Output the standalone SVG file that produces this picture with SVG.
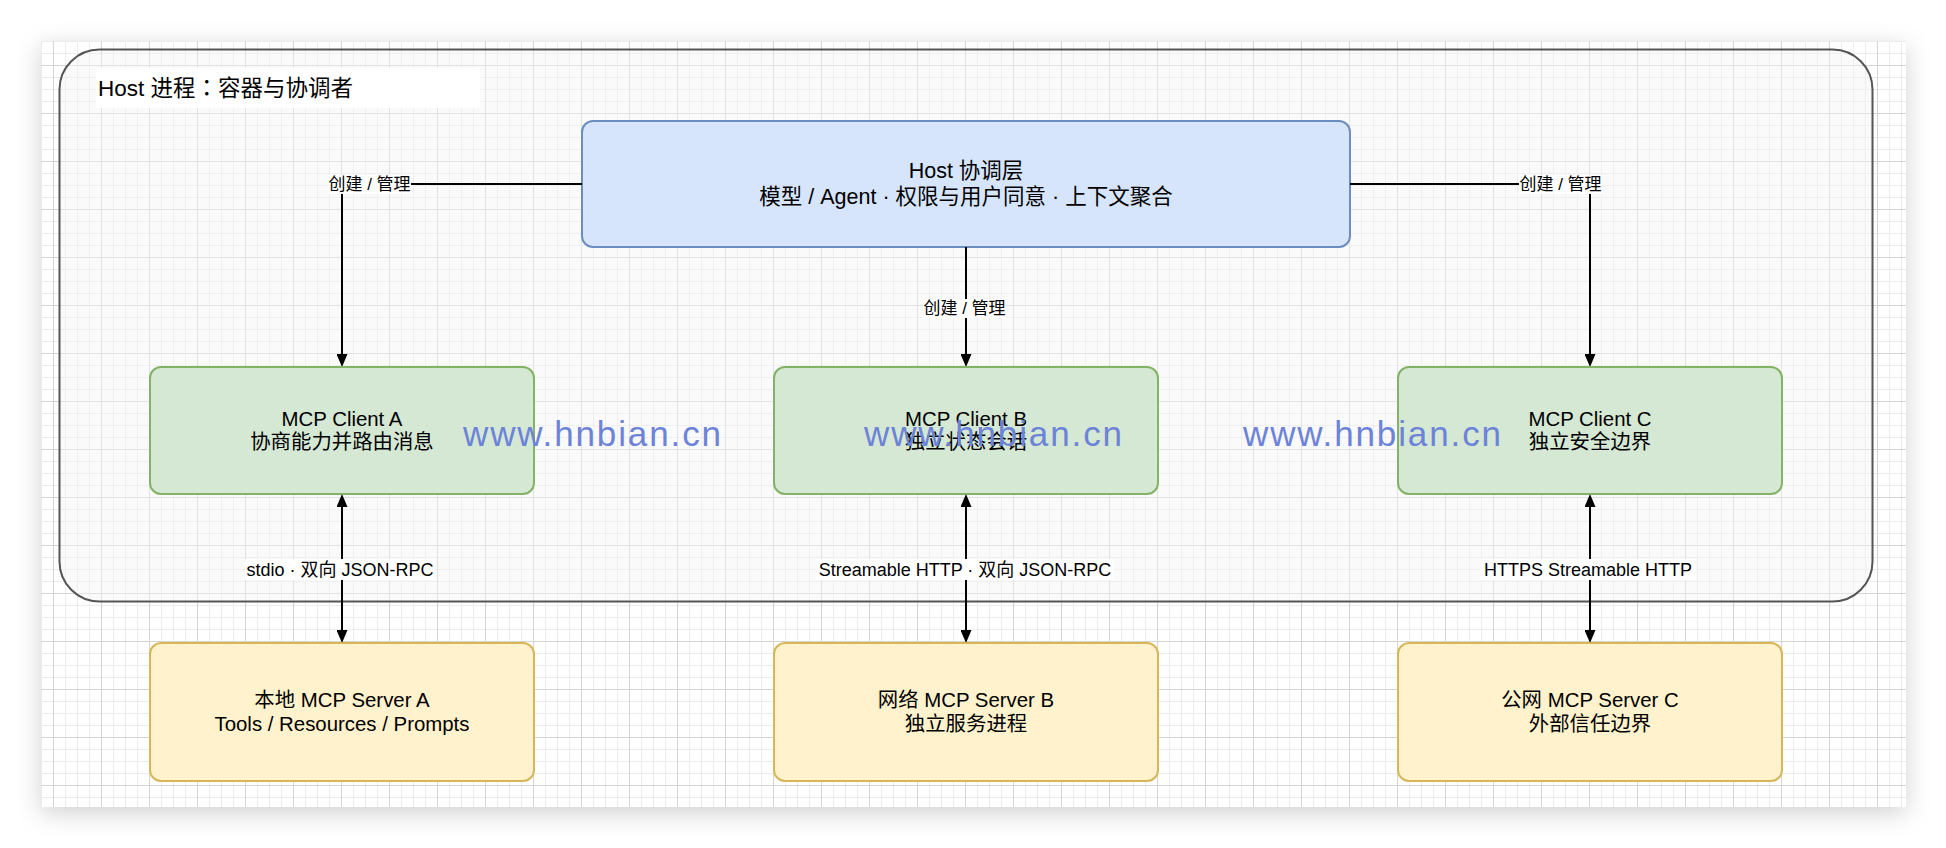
<svg xmlns="http://www.w3.org/2000/svg" width="1946" height="848" viewBox="0 0 1946 848">
  <defs>
    <pattern id="grid" patternUnits="userSpaceOnUse" x="5" y="17" width="48" height="48">
      <rect x="0" y="0" width="48" height="48" fill="#ffffff"/>
      <g fill="#ececec">
        <rect x="12" y="0" width="1" height="48"/>
        <rect x="24" y="0" width="1" height="48"/>
        <rect x="36" y="0" width="1" height="48"/>
        <rect x="0" y="12" width="48" height="1"/>
        <rect x="0" y="24" width="48" height="1"/>
        <rect x="0" y="36" width="48" height="1"/>
      </g>
      <g fill="#d4d4d4">
        <rect x="0" y="0" width="1" height="48"/>
        <rect x="0" y="0" width="48" height="1"/>
      </g>
    </pattern>
    <filter id="shadow" x="-5%" y="-10%" width="110%" height="120%">
      <feDropShadow dx="0" dy="6" stdDeviation="12" flood-color="#000000" flood-opacity="0.18"/>
    </filter>
    <marker id="arr" viewBox="0 0 13 11" refX="10" refY="5.5" markerWidth="13" markerHeight="11" markerUnits="userSpaceOnUse" orient="auto-start-reverse">
      <path d="M0,0 L13,5.5 L0,11 z" fill="#000000"/>
    </marker>
    <style>
      text { font-family: "Liberation Sans", "Noto Sans CJK SC", sans-serif; fill: #000000; }
      .title { font-family: "Liberation Sans", "Noto Sans CJK TC", "Noto Sans CJK SC", sans-serif; font-size: 22.5px; }
      .node { text-anchor: middle; font-size: 20.4px; }
      .hostt { text-anchor: middle; font-size: 21.5px; }
      .lbl { text-anchor: middle; font-size: 17px; }
      .lbl2 { text-anchor: middle; font-size: 18px; }
      .lblbg { fill: #ffffff; }
      .edge { fill: none; stroke: #000000; stroke-width: 2; }
      .client { fill: #d5e8d4; stroke: #82b366; stroke-width: 2; }
      .server { fill: #fff2cc; stroke: #d6b656; stroke-width: 2; }
      .host { fill: #d6e5fb; stroke: #6c8ebf; stroke-width: 2; }
      .wm { font-family: "Liberation Sans", "DejaVu Sans", sans-serif; font-size: 35px; fill: #6c83d9; }
    </style>
  </defs>

  <rect x="0" y="0" width="1946" height="848" fill="#ffffff"/>
  <rect x="41" y="41" width="1865" height="766" fill="url(#grid)" filter="url(#shadow)"/>

  <g id="host-container">
    <rect x="59.5" y="49.5" width="1813" height="552" rx="40" ry="40" fill="#f5f5f5" fill-opacity="0.45" stroke="#555555" stroke-width="2"/>
    <rect x="96" y="68" width="384" height="40" fill="#ffffff"/>
    <text class="title" x="98" y="96">Host 进程：容器与协调者</text>
  </g>

  <g id="host-layer">
    <rect class="host" x="582" y="121" width="768" height="126" rx="11" ry="11"/>
    <text class="hostt" x="966" y="178">Host 协调层</text>
    <text class="hostt" x="966" y="204">模型 / Agent · 权限与用户同意 · 上下文聚合</text>
  </g>

  <g id="connectors">
    <path class="edge" d="M582,184 H342 V364" marker-end="url(#arr)"/>
    <path class="edge" d="M1350,184 H1590 V364" marker-end="url(#arr)"/>
    <path class="edge" d="M966,247 V364" marker-end="url(#arr)"/>
    <path class="edge" d="M342,497 V640" marker-start="url(#arr)" marker-end="url(#arr)"/>
    <path class="edge" d="M966,497 V640" marker-start="url(#arr)" marker-end="url(#arr)"/>
    <path class="edge" d="M1590,497 V640" marker-start="url(#arr)" marker-end="url(#arr)"/>

    <rect class="lblbg" x="328" y="175" width="83" height="19"/>
    <text class="lbl" x="369.5" y="190">创建 / 管理</text>
    <rect class="lblbg" x="1519" y="175" width="83" height="19"/>
    <text class="lbl" x="1560.5" y="190">创建 / 管理</text>
    <rect class="lblbg" x="923" y="299" width="83" height="19"/>
    <text class="lbl" x="964.5" y="314">创建 / 管理</text>

    <rect class="lblbg" x="245" y="559" width="190" height="21"/>
    <text class="lbl2" x="340" y="576">stdio · 双向 JSON-RPC</text>
    <rect class="lblbg" x="816" y="559" width="298" height="21"/>
    <text class="lbl2" x="965" y="576">Streamable HTTP · 双向 JSON-RPC</text>
    <rect class="lblbg" x="1480" y="559" width="216" height="21"/>
    <text class="lbl2" x="1588" y="576">HTTPS Streamable HTTP</text>
  </g>

  <g id="client-a">
    <rect class="client" x="150" y="367" width="384" height="127" rx="11" ry="11"/>
    <text class="node" x="342" y="426">MCP Client A</text>
    <text class="node" x="342" y="449">协商能力并路由消息</text>
  </g>
  <g id="client-b">
    <rect class="client" x="774" y="367" width="384" height="127" rx="11" ry="11"/>
    <text class="node" x="966" y="426">MCP Client B</text>
    <text class="node" x="966" y="449">独立状态会话</text>
  </g>
  <g id="client-c">
    <rect class="client" x="1398" y="367" width="384" height="127" rx="11" ry="11"/>
    <text class="node" x="1590" y="426">MCP Client C</text>
    <text class="node" x="1590" y="449">独立安全边界</text>
  </g>

  <g id="server-a">
    <rect class="server" x="150" y="643" width="384" height="138" rx="11" ry="11"/>
    <text class="node" x="342" y="707">本地 MCP Server A</text>
    <text class="node" x="342" y="731">Tools / Resources / Prompts</text>
  </g>
  <g id="server-b">
    <rect class="server" x="774" y="643" width="384" height="138" rx="11" ry="11"/>
    <text class="node" x="966" y="707">网络 MCP Server B</text>
    <text class="node" x="966" y="731">独立服务进程</text>
  </g>
  <g id="server-c">
    <rect class="server" x="1398" y="643" width="384" height="138" rx="11" ry="11"/>
    <text class="node" x="1590" y="707">公网 MCP Server C</text>
    <text class="node" x="1590" y="731">外部信任边界</text>
  </g>

  <g id="watermark">
    <text class="wm" x="463" y="446" textLength="258" lengthAdjust="spacing">www.hnbian.cn</text>
    <text class="wm" x="864" y="446" textLength="258" lengthAdjust="spacing">www.hnbian.cn</text>
    <text class="wm" x="1243" y="446" textLength="258" lengthAdjust="spacing">www.hnbian.cn</text>
  </g>
</svg>
